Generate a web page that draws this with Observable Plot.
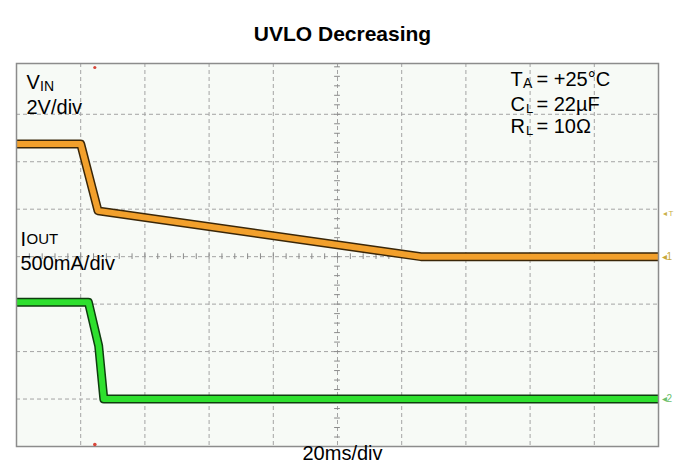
<!DOCTYPE html>
<html>
<head>
<meta charset="utf-8">
<script src="https://cdn.jsdelivr.net/npm/d3@7"></script>
<script src="https://cdn.jsdelivr.net/npm/@observablehq/plot@0.6"></script>
<style>
  html, body { margin: 0; padding: 0; background: #ffffff; }
  #chart svg { display: block; }
</style>
</head>
<body>
<div id="chart"></div>
<script>
// ---- Data read from the oscilloscope capture ----
// Time axis: 20 ms/div, 10 divisions
const timeDomainMs = [0, 200];
const xGridMs = [20, 40, 60, 80, 100, 120, 140, 160, 180];
const yGridDiv = [-3, -2, -1, 0, 1, 2, 3];

// VIN trace (2 V/div, ground at centre line)
const vinTimeMs = [0, 20.0, 25.4, 126, 200];
const vinVolts  = [4.75, 4.75, 1.93, 0, 0];
const vinVoltsPerDiv = 2;
const vinGroundDiv = 0;

// IOUT trace (500 mA/div, ground 3 div below centre)
const ioutTimeMs = [0, 22.4, 25.6, 27.2, 200];
const ioutMilliAmps = [1020, 1020, 560, 0, 0];
const ioutMaPerDiv = 500;
const ioutGroundDiv = -3;

// Trigger time marker
const triggerMs = [24.4];
const triggerLevelDiv = [0.92];

// Text
const titleText = ["UVLO Decreasing"];
const timebaseText = ["20ms/div"];

const vin = vinTimeMs.map((t, i) => ({t, y: vinVolts[i] / vinVoltsPerDiv + vinGroundDiv}));
const iout = ioutTimeMs.map((t, i) => ({t, y: ioutMilliAmps[i] / ioutMaPerDiv + ioutGroundDiv}));

const minorX = d3.range(0, 201, 4);
const minorY = d3.range(-4, 4.01, 0.2);

const FONT = "'Liberation Sans', Arial, Helvetica, sans-serif";
const ML = 16, MT = 63;

// helper: place a text label by baseline pixel position relative to the frame's top-left
function label(str, px, baseline, size, extra = {}) {
  return Plot.text([str], {
    text: d => d,
    frameAnchor: "top-left",
    dx: px - ML,
    dy: baseline - MT - 0.32 * size,
    fontSize: size,
    textAnchor: "start",
    fill: "#000",
    fontFamily: FONT,
    ...extra
  });
}

const chart = Plot.plot({
  width: 689,
  height: 472,
  marginLeft: ML,
  marginRight: 31,
  marginTop: MT,
  marginBottom: 26,
  style: {fontFamily: FONT, background: "#ffffff"},
  x: {domain: timeDomainMs, axis: null},
  y: {domain: [-4, 4.07], axis: null},
  marks: [
    Plot.frame({fill: "#f7faf6", stroke: null}),
    Plot.ruleX(xGridMs, {x: d => d, stroke: "#a4a4a4", strokeDasharray: "4,3", strokeWidth: 1}),
    Plot.ruleY(yGridDiv, {y: d => d, stroke: "#a4a4a4", strokeDasharray: "4,3", strokeWidth: 1}),
    Plot.ruleX(minorX, {x: d => d, y1: -0.06, y2: 0.06, stroke: "#8a8a8a", strokeWidth: 1}),
    Plot.ruleY(minorY, {y: d => d, x1: 99.1, x2: 100.9, stroke: "#8a8a8a", strokeWidth: 1}),
    // VIN trace
    Plot.line(vin, {x: "t", y: "y", stroke: "#3a2608", strokeWidth: 9, clip: true, strokeLinejoin: "round"}),
    Plot.line(vin, {x: "t", y: "y", stroke: "#f2a02c", strokeWidth: 6, clip: true, strokeLinejoin: "round"}),
    // IOUT trace
    Plot.line(iout, {x: "t", y: "y", stroke: "#0f3d0f", strokeWidth: 9, clip: true, strokeLinejoin: "round"}),
    Plot.line(iout, {x: "t", y: "y", stroke: "#2ee02e", strokeWidth: 6, clip: true, strokeLinejoin: "round"}),
    Plot.frame({stroke: "#8c8c8c", strokeWidth: 1.5}),
    // trigger position markers (top & bottom)
    Plot.dot(triggerMs, {x: d => d, frameAnchor: "top", dy: 4, r: 1.6, fill: "#d8463a", stroke: null}),
    Plot.dot(triggerMs, {x: d => d, frameAnchor: "bottom", dy: -2, r: 1.8, fill: "#d8463a", stroke: null}),
    // right-hand channel markers
    Plot.text(triggerLevelDiv, {y: d => d, text: () => "◂ T", frameAnchor: "right", dx: 4, textAnchor: "start", fontSize: 8, fill: "#c9b04a"}),
    Plot.text([vinGroundDiv], {y: d => d, text: () => "◂1", frameAnchor: "right", dx: 3, textAnchor: "start", fontSize: 10, fill: "#c9a83a"}),
    Plot.text([ioutGroundDiv], {y: d => d, text: () => "◂2", frameAnchor: "right", dx: 3, textAnchor: "start", fontSize: 10, fill: "#6cbf6c"}),
    // Title and timebase
    Plot.text(titleText, {text: d => d, frameAnchor: "top", dx: 5, dy: 32 - MT - 0.32 * 21, fontSize: 21, fontWeight: "bold", fill: "#000", fontFamily: FONT}),
    Plot.text(timebaseText, {text: d => d, frameAnchor: "bottom", dx: 5, dy: 466 - 446 - 0.32 * 20, fontSize: 20, fill: "#000", fontFamily: FONT}),
    // VIN label
    label("V", 26, 81, 20),
    label("IN", 39.5, 85, 14),
    label("2V/div", 26, 106, 20),
    // IOUT label
    label("I", 20, 238, 20),
    label("OUT", 26, 238, 15),
    label("500mA/div", 20, 262, 20),
    // Conditions
    label("T", 510, 78, 20),
    label("A", 522.5, 82, 14),
    label("= +25°C", 536, 78, 20),
    label("C", 510, 103, 20),
    label("L", 525.5, 107, 13),
    label("= 22µF", 536, 103, 20),
    label("R", 510, 125, 20),
    label("L", 525.5, 129, 13),
    label("= 10Ω", 536, 125, 20)
  ]
});

document.getElementById("chart").append(chart);
</script>
</body>
</html>
